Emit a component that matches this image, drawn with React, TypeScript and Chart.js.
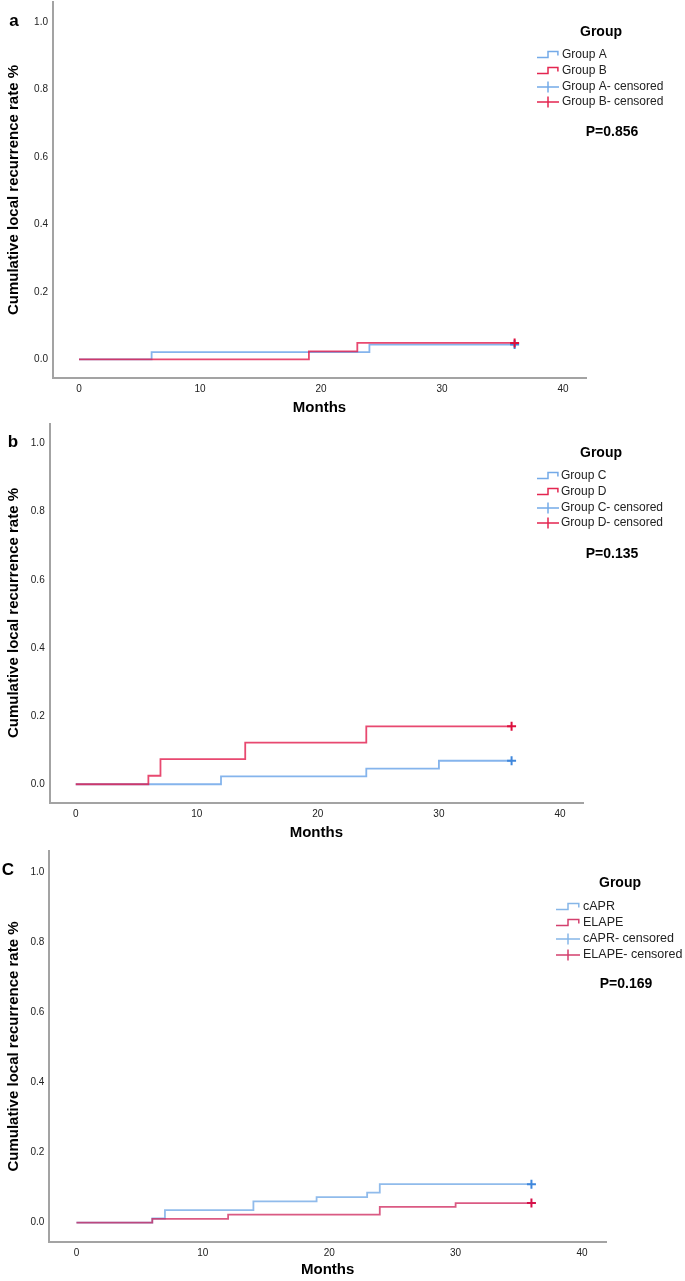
import React, { useEffect, useRef } from "react";
import { Chart, registerables } from "chart.js";

Chart.register(...registerables);

// ---------- data ----------
const xTicks = [0, 10, 20, 30, 40];
const yTicks = [0, 0.2, 0.4, 0.6, 0.8, 1.0];
const censorTime = 36;

// panel a
const aLabels = ["Group A", "Group B", "Group A- censored", "Group B- censored"];
const aTimes1 = [0, 6, 24, 36];
const aLevels1 = [0, 0.022, 0.044, 0.044];
const aTimes2 = [0, 19, 23, 36];
const aLevels2 = [0, 0.024, 0.049, 0.049];
const aP = "P=0.856";

// panel b
const bLabels = ["Group C", "Group D", "Group C- censored", "Group D- censored"];
const bTimes1 = [0, 12, 24, 30, 36];
const bLevels1 = [0, 0.023, 0.046, 0.069, 0.069];
const bTimes2 = [0, 6, 7, 14, 24, 36];
const bLevels2 = [0, 0.025, 0.074, 0.122, 0.170, 0.170];
const bP = "P=0.135";

// panel c
const cLabels = ["cAPR", "ELAPE", "cAPR- censored", "ELAPE- censored"];
const cTimes1 = [0, 6, 7, 14, 19, 23, 24, 36];
const cLevels1 = [0, 0.012, 0.036, 0.061, 0.073, 0.086, 0.110, 0.110];
const cTimes2 = [0, 6, 12, 24, 30, 36];
const cLevels2 = [0, 0.011, 0.023, 0.045, 0.056, 0.056];
const cP = "P=0.169";

// ---------- styling / layout ----------
const FONT = '"Liberation Sans", Arial, Helvetica, sans-serif';

type PanelCfg = {
  letter: string;
  letterPos: [number, number];
  canvasTop: number;
  canvasHeight: number;
  area: { left: number; top: number; right: number; bottom: number };
  monthsY: number;
  labels: string[];
  times1: number[];
  levels1: number[];
  times2: number[];
  levels2: number[];
  pText: string;
  legend: { titleX: number; titleY: number; iconX: number; iconW: number; textX: number; rows: number[]; pX: number; pY: number; fontSize: number };
  colors: { blue: string; red: string; blueMark: string; redMark: string; blueIcon: string; redIcon: string };
};

const colorsAB = {
  blue: "rgba(120,172,234,0.9)",
  red: "rgba(226,22,72,0.78)",
  blueMark: "#3f87dc",
  redMark: "#dd0f3d",
  blueIcon: "#74aae8",
  redIcon: "#e42650",
};
const colorsC = {
  blue: "rgba(125,175,232,0.85)",
  red: "rgba(205,35,90,0.75)",
  blueMark: "#3f87dc",
  redMark: "#d5124a",
  blueIcon: "#86b6e8",
  redIcon: "#d3406e",
};

const panels: PanelCfg[] = [
  {
    letter: "a",
    letterPos: [14, 21],
    canvasTop: 0,
    canvasHeight: 423,
    area: { left: 53, top: 2, right: 586, bottom: 378 },
    monthsY: 408,
    labels: aLabels,
    times1: aTimes1,
    levels1: aLevels1,
    times2: aTimes2,
    levels2: aLevels2,
    pText: aP,
    legend: { titleX: 601, titleY: 32, iconX: 537, iconW: 22, textX: 562, rows: [55, 71, 87, 102], pX: 612, pY: 132, fontSize: 12 },
    colors: colorsAB,
  },
  {
    letter: "b",
    letterPos: [13, 442],
    canvasTop: 423,
    canvasHeight: 427,
    area: { left: 49.7, top: 423, right: 583, bottom: 803 },
    monthsY: 833,
    labels: bLabels,
    times1: bTimes1,
    levels1: bLevels1,
    times2: bTimes2,
    levels2: bLevels2,
    pText: bP,
    legend: { titleX: 601, titleY: 453, iconX: 537, iconW: 22, textX: 561, rows: [476, 492, 508, 523], pX: 612, pY: 554, fontSize: 12 },
    colors: colorsAB,
  },
  {
    letter: "C",
    letterPos: [8, 870],
    canvasTop: 850,
    canvasHeight: 431,
    area: { left: 49.3, top: 851, right: 606, bottom: 1242 },
    monthsY: 1270,
    labels: cLabels,
    times1: cTimes1,
    levels1: cLevels1,
    times2: cTimes2,
    levels2: cLevels2,
    pText: cP,
    legend: { titleX: 620, titleY: 883, iconX: 556, iconW: 24, textX: 583, rows: [907, 923, 939, 955], pX: 626, pY: 984, fontSize: 12.5 },
    colors: colorsC,
  },
];

const X_MIN = -2.15;
const X_MAX = 41.9;
const Y_MIN = -0.055;
const Y_MAX = 1.06;

const toPts = (t: number[], v: number[]) => t.map((x, i) => ({ x, y: v[i] }));

function KMPanel({ cfg }: { cfg: PanelCfg }) {
  const ref = useRef<HTMLCanvasElement>(null);

  useEffect(() => {
    const canvas = ref.current;
    if (!canvas) return;
    const oy = cfg.canvasTop;
    const H = cfg.canvasHeight;
    const a = cfg.area;
    const xAxisH = oy + H - a.bottom;
    const col = cfg.colors;

    const overlay = {
      id: "overlay" + cfg.letter,
      afterDraw(chart: any) {
        const ctx = chart.ctx as CanvasRenderingContext2D;
        const L = cfg.legend;
        ctx.save();
        ctx.textAlign = "center";
        ctx.textBaseline = "middle";
        ctx.fillStyle = "#000";
        ctx.font = `bold 17px ${FONT}`;
        ctx.fillText(cfg.letter, cfg.letterPos[0], cfg.letterPos[1] - oy);

        ctx.font = `bold 14px ${FONT}`;
        ctx.fillText("Group", L.titleX, L.titleY - oy);
        ctx.fillText(cfg.pText, L.pX, L.pY - oy);

        ctx.font = `${L.fontSize}px ${FONT}`;
        ctx.textAlign = "left";
        ctx.fillStyle = "#222";
        cfg.labels.forEach((lab, i) => ctx.fillText(lab, L.textX, L.rows[i] - oy));

        const iconColors = [col.blueIcon, col.redIcon, col.blueIcon, col.redIcon];
        ctx.lineWidth = 1.5;
        L.rows.forEach((ry, i) => {
          const y = ry - oy;
          const x0 = L.iconX;
          const w = L.iconW;
          ctx.strokeStyle = iconColors[i];
          ctx.beginPath();
          if (i < 2) {
            ctx.moveTo(x0, y + 2.5);
            ctx.lineTo(x0 + w * 0.5, y + 2.5);
            ctx.lineTo(x0 + w * 0.5, y - 3.5);
            ctx.lineTo(x0 + w * 0.95, y - 3.5);
            ctx.lineTo(x0 + w * 0.95, y + 0.5);
          } else {
            ctx.moveTo(x0, y);
            ctx.lineTo(x0 + w, y);
            ctx.moveTo(x0 + w * 0.5, y - 5.5);
            ctx.lineTo(x0 + w * 0.5, y + 5.5);
          }
          ctx.stroke();
        });
        ctx.restore();
      },
    };

    const chart = new Chart(canvas, {
      type: "line",
      data: {
        datasets: [
          {
            label: cfg.labels[3],
            data: [{ x: censorTime, y: cfg.levels2[cfg.levels2.length - 1] }],
            showLine: false,
            pointStyle: "cross",
            pointRadius: 4.5,
            pointHoverRadius: 4.5,
            pointBorderWidth: 2,
            pointBorderColor: col.redMark,
            pointBackgroundColor: col.redMark,
            order: 0,
          },
          {
            label: cfg.labels[2],
            data: [{ x: censorTime, y: cfg.levels1[cfg.levels1.length - 1] }],
            showLine: false,
            pointStyle: "cross",
            pointRadius: 4.5,
            pointHoverRadius: 4.5,
            pointBorderWidth: 2,
            pointBorderColor: col.blueMark,
            pointBackgroundColor: col.blueMark,
            order: 1,
          },
          {
            label: cfg.labels[1],
            data: toPts(cfg.times2, cfg.levels2),
            stepped: "before",
            borderColor: col.red,
            borderWidth: 1.8,
            pointRadius: 0,
            pointHoverRadius: 0,
            fill: false,
            order: 2,
          },
          {
            label: cfg.labels[0],
            data: toPts(cfg.times1, cfg.levels1),
            stepped: "before",
            borderColor: col.blue,
            borderWidth: 1.8,
            pointRadius: 0,
            pointHoverRadius: 0,
            fill: false,
            order: 3,
          },
        ] as any,
      },
      options: {
        animation: false,
        responsive: false,
        devicePixelRatio: 1,
        events: [],
        layout: {
          autoPadding: false,
          padding: { left: 0, top: a.top - oy, right: 685 - a.right, bottom: 0 },
        },
        plugins: { legend: { display: false }, tooltip: { enabled: false } },
        scales: {
          x: {
            type: "linear",
            min: X_MIN,
            max: X_MAX,
            afterBuildTicks: (s: any) => {
              s.ticks = xTicks.map((v) => ({ value: v }));
            },
            afterFit: (s: any) => {
              s.height = xAxisH;
              s.paddingLeft = 0;
              s.paddingRight = 0;
            },
            grid: { display: false, drawTicks: false },
            border: { display: true, color: "#a3a3a3", width: 2 },
            ticks: {
              autoSkip: false,
              maxRotation: 0,
              padding: 5,
              color: "#222",
              font: { family: FONT, size: 10 },
              callback: (v: any) => String(v),
            },
            title: {
              display: true,
              text: "Months",
              color: "#000",
              font: { family: FONT, size: 15, weight: "bold" },
              padding: { top: 0, bottom: oy + H - 9 - cfg.monthsY },
            },
          },
          y: {
            type: "linear",
            min: Y_MIN,
            max: Y_MAX,
            afterBuildTicks: (s: any) => {
              s.ticks = yTicks.map((v) => ({ value: v }));
            },
            afterFit: (s: any) => {
              s.width = a.left;
              s.paddingTop = 0;
              s.paddingBottom = 0;
            },
            grid: { display: false, drawTicks: false },
            border: { display: true, color: "#a3a3a3", width: 2 },
            ticks: {
              autoSkip: false,
              padding: 5,
              color: "#222",
              font: { family: FONT, size: 10 },
              callback: (v: any) => Number(v).toFixed(1),
            },
            title: {
              display: true,
              text: "Cumulative local recurrence rate %",
              color: "#000",
              font: { family: FONT, size: 15, weight: "bold" },
              padding: { top: 5, bottom: 0 },
            },
          },
        },
      } as any,
      plugins: [overlay],
    });
    return () => chart.destroy();
  }, [cfg]);

  return (
    <canvas
      ref={ref}
      width={685}
      height={cfg.canvasHeight}
      style={{ position: "absolute", left: 0, top: cfg.canvasTop, width: 685, height: cfg.canvasHeight, display: "block" }}
    />
  );
}

export default function App() {
  return (
    <div style={{ position: "absolute", left: 0, top: 0, width: 685, height: 1281, background: "#fff", overflow: "hidden" }}>
      {panels.map((p) => (
        <KMPanel key={p.letter} cfg={p} />
      ))}
    </div>
  );
}
